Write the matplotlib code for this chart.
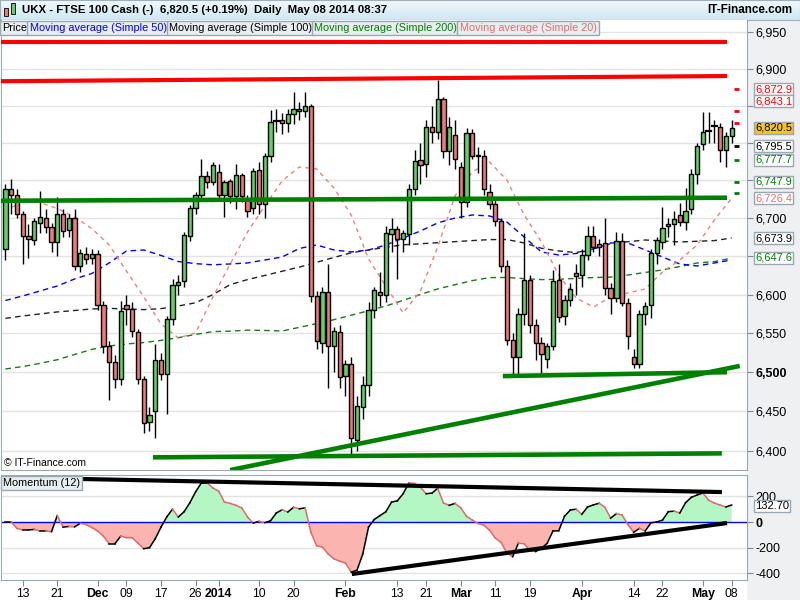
import numpy as np
import matplotlib
matplotlib.use("Agg")
import matplotlib.pyplot as plt
from matplotlib.patches import Rectangle
from matplotlib.colors import LinearSegmentedColormap
from matplotlib.ticker import FixedLocator, NullLocator

plt.rcParams['font.family'] = ['Liberation Sans', 'DejaVu Sans']

# ---------------- data (daily bars, index 0 .. 126) ----------------
opens = [6659, 6739, 6731, 6705, 6676, 6671, 6694, 6700, 6688, 6669,
         6705, 6684, 6700, 6637, 6653, 6648, 6653, 6586, 6533, 6513,
         6491, 6586, 6581, 6551, 6491, 6437, 6451, 6516, 6498, 6568,
         6613, 6618, 6676, 6714, 6730, 6756, 6748, 6761, 6730, 6749,
         6729, 6757, 6725, 6713, 6764, 6719, 6782, 6828, 6830, 6826,
         6839, 6845, 6843, 6849, 6598, 6537, 6603, 6533, 6551, 6495,
         6511, 6414, 6456, 6483, 6580, 6603, 6600, 6679, 6686, 6673,
         6679, 6738, 6777, 6772, 6821, 6815, 6859, 6789, 6811, 6768,
         6721, 6813, 6782, 6783, 6735, 6719, 6696, 6637, 6541, 6520,
         6575, 6619, 6560, 6538, 6517, 6534, 6619, 6572, 6593, 6628,
         6626, 6652, 6676, 6666, 6667, 6609, 6596, 6670, 6589, 6520,
         6511, 6575, 6586, 6654, 6669, 6690, 6692, 6704, 6695, 6712,
         6759, 6798, 6815, 6822, 6821, 6791, 6809]
highs = [6745, 6752, 6738, 6710, 6692, 6700, 6736, 6712, 6694, 6728,
         6712, 6706, 6712, 6660, 6662, 6660, 6658, 6592, 6540, 6522,
         6592, 6600, 6590, 6556, 6495, 6455, 6536, 6525, 6572, 6620,
         6625, 6682, 6718, 6735, 6778, 6762, 6774, 6772, 6750, 6752,
         6772, 6760, 6730, 6766, 6775, 6787, 6844, 6846, 6840, 6845,
         6868, 6855, 6868, 6852, 6605, 6610, 6640, 6558, 6560, 6515,
         6520, 6470, 6495, 6590, 6610, 6630, 6690, 6700, 6690, 6685,
         6745, 6790, 6800, 6830, 6850, 6884, 6862, 6835, 6830, 6775,
         6820, 6818, 6795, 6790, 6745, 6725, 6700, 6645, 6550, 6582,
         6680, 6625, 6568, 6545, 6538, 6632, 6640, 6600, 6615, 6640,
         6660, 6690, 6690, 6672, 6700, 6615, 6682, 6680, 6595, 6530,
         6580, 6590, 6660, 6675, 6715, 6700, 6710, 6720, 6740, 6765,
         6800, 6842, 6842, 6830, 6826, 6815, 6830]
lows = [6645, 6705, 6700, 6640, 6648, 6665, 6680, 6680, 6655, 6650,
        6675, 6675, 6632, 6630, 6640, 6640, 6580, 6525, 6464, 6480,
        6484, 6560, 6545, 6485, 6423, 6425, 6416, 6490, 6447, 6560,
        6600, 6610, 6670, 6705, 6725, 6740, 6744, 6725, 6701, 6720,
        6712, 6722, 6701, 6705, 6705, 6700, 6775, 6815, 6812, 6815,
        6825, 6830, 6835, 6590, 6530, 6525, 6480, 6500, 6480, 6470,
        6395, 6400, 6440, 6470, 6570, 6585, 6590, 6655, 6620, 6655,
        6665, 6730, 6745, 6755, 6800, 6805, 6780, 6770, 6765, 6700,
        6715, 6778, 6760, 6730, 6712, 6690, 6630, 6535, 6496, 6498,
        6560, 6550, 6515, 6495, 6505, 6528, 6565, 6560, 6585, 6600,
        6610, 6645, 6655, 6650, 6600, 6575, 6590, 6585, 6530, 6505,
        6505, 6560, 6570, 6640, 6660, 6675, 6665, 6690, 6685, 6705,
        6745, 6790, 6800, 6800, 6775, 6768, 6800]
closes = [6739, 6731, 6705, 6676, 6672, 6696, 6701, 6688, 6669, 6705,
          6683, 6700, 6637, 6654, 6646, 6653, 6586, 6533, 6513, 6491,
          6579, 6581, 6553, 6491, 6435, 6445, 6516, 6498, 6568, 6613,
          6616, 6678, 6714, 6730, 6756, 6748, 6770, 6730, 6748, 6729,
          6757, 6729, 6710, 6762, 6719, 6783, 6828, 6829, 6826, 6839,
          6845, 6843, 6849, 6598, 6540, 6603, 6533, 6553, 6494, 6511,
          6416, 6457, 6483, 6580, 6606, 6600, 6680, 6686, 6673, 6680,
          6738, 6776, 6770, 6821, 6815, 6859, 6789, 6821, 6778, 6721,
          6813, 6782, 6784, 6739, 6719, 6696, 6637, 6541, 6520, 6575,
          6619, 6560, 6538, 6523, 6534, 6618, 6571, 6593, 6607, 6624,
          6652, 6676, 6662, 6662, 6609, 6596, 6670, 6589, 6546, 6511,
          6575, 6585, 6654, 6671, 6687, 6692, 6699, 6695, 6710, 6759,
          6796, 6815, 6816, 6822, 6791, 6809, 6820.5]

momentum = [0, 0, -50, -62, -62, -58, -70, -70, -75, 50,
            -40, -35, -38, -10, -20, -43, -70, -110, -170, -170,
            -110, -122, -123, -165, -208, -200, -130, -40, 40, 100,
            39, 80, 150, 235, 304, 304, 265, 240, 155, 145,
            130, 110, 39, -8, 5, -5, 10, 70, 95, 78,
            115, 103, 110, -80, -185, -195, -250, -287, -305, -320,
            -390, -375, -250, -40, 20, 50, 80, 155, 165, 220,
            305, 300, 270, 220, 225, 262, 148, 130, 145, 110,
            45, 15, -12, -25, -65, -125, -160, -240, -270, -165,
            -170, -222, -230, -205, -165, -70, -68, 45, 93, 100,
            60, 117, 133, 146, 115, 30, 65, 54, -20, -80,
            -50, -70, -6, 0, 15, 80, 85, 70, 150, 192,
            210, 226, 170, 147, 132, 117, 132.7]

ma_idx = list(range(0, 127, 3))
ma20 = [6708.7, 6723.1, 6720.7, 6712.7, 6701.6, 6686.3, 6664.7, 6630.7, 6596.9, 6562.0,
        6543.9, 6550.3, 6596.9, 6639.9, 6681.8, 6716.1, 6749.2, 6767.8, 6765.2, 6739.9,
        6704.2, 6646.4, 6611.2, 6576.2, 6604.7, 6662.1, 6729.3, 6761.2, 6774.5, 6750.5,
        6704.2, 6668.7, 6625.5, 6595.6, 6583.9, 6596.9, 6602.1, 6607.3, 6629.4, 6645.1,
        6664.7, 6697.6, 6726.4]
ma50 = [6592.4, 6598.2, 6604.7, 6611.2, 6620.3, 6627.5, 6641.2, 6656.9, 6658.2, 6651.0,
        6643.1, 6640.3, 6638.8, 6639.9, 6641.2, 6645.1, 6649.0, 6660.2, 6664.7, 6658.2,
        6655.6, 6658.2, 6664.7, 6673.9, 6683.1, 6693.7, 6700.2, 6704.2, 6702.9, 6695.0,
        6675.2, 6655.6, 6651.6, 6653.6, 6659.5, 6667.4, 6667.4, 6658.2, 6649.0, 6639.9,
        6637.3, 6641.2, 6645.1]
ma100 = [6569.2, 6572.3, 6574.9, 6577.5, 6579.4, 6581.4, 6582.1, 6581.4, 6580.5, 6581.8,
         6585.2, 6589.4, 6600.0, 6613.0, 6619.5, 6624.9, 6630.4, 6635.8, 6642.1, 6648.4,
         6654.5, 6658.2, 6661.7, 6665.0, 6666.3, 6667.8, 6669.1, 6670.5, 6671.8, 6671.9,
         6667.4, 6660.4, 6656.9, 6654.8, 6659.5, 6666.5, 6669.0, 6671.3, 6670.0, 6668.7,
         6669.6, 6670.5, 6673.9]
ma200 = [6504.1, 6507.2, 6511.3, 6515.9, 6522.7, 6529.2, 6533.6, 6536.2, 6538.0, 6540.8,
         6544.3, 6548.5, 6552.1, 6552.7, 6554.0, 6553.6, 6552.9, 6557.6, 6562.5, 6567.5,
         6573.3, 6579.0, 6585.2, 6592.5, 6600.2, 6607.4, 6612.8, 6618.2, 6622.1, 6622.3,
         6620.8, 6619.5, 6619.9, 6621.1, 6622.1, 6622.8, 6625.5, 6628.8, 6632.1, 6636.5,
         6641.2, 6643.0, 6647.6]

tick_idx = [3, 9, 16, 21, 27, 33, 37, 44, 50, 59, 68, 73, 79, 85, 91, 100, 109, 114, 121, 126]
tick_labels = ['13', '21', 'Dec', '09', '17', '26', '2014', '10', '20', 'Feb', '13', '21',
               'Mar', '11', '19', 'Apr', '14', '22', 'May', '08']
bold_labels = ['Dec', '2014', 'Feb', 'Mar', 'Apr', 'May']

# hand-drawn trendlines: (bar index, value) end points
red_lines = [((-0.9, 6936), (125.2, 6936)), ((-0.9, 6883), (125.2, 6890))]
green_lines = [((-0.9, 6723), (125.2, 6727)), ((86.3, 6495), (125.2, 6500)),
               ((39.0, 6376), (127.4, 6508)), ((25.6, 6392), (124.3, 6397))]
mom_lines = [((12.9, 335), (124.3, 233)), ((60.1, -405), (125.2, -8))]

pivots = [6872.9, 6843.1, 6826.0, 6795.5, 6777.7, 6747.9, 6733.0]
pivot_colors = ['#ff0000', '#ff0000', '#ff0000', '#000000', '#008000', '#008000', '#008000']

price_labels = ['6,872.9', '6,843.1', '6,820.5', '6,795.5', '6,777.7', '6,747.9', '6,726.4', '6,673.9', '6,647.6']
price_label_colors = ['#ff0000', '#ff0000', '#000000', '#000000', '#008000', '#008000', '#e07070', '#000000', '#008000']
price_label_y = [89, 101, 128, 146, 160, 182, 198, 238, 258]

# ---------------- figure ----------------
W, H = 800, 600
fig = plt.figure(figsize=(8, 6), dpi=100)
fig.patch.set_facecolor('white')


def fx(px):
    return px / W


def fy(py):
    return 1 - py / H


# right axis panel background
bg = fig.add_axes([fx(747), 0, fx(53), fy(20)])
bg.set_facecolor('#eef0f2')
bg.set_xticks([]); bg.set_yticks([])
for s in bg.spines.values():
    s.set_visible(False)

# header
hdr = fig.add_axes([0, fy(20), 1, 20 / H])
grad = np.linspace(0, 1, 50).reshape(-1, 1)
cmap = LinearSegmentedColormap.from_list('h', ['#f2fafd', '#cfe6f1'])
hdr.imshow(grad, aspect='auto', cmap=cmap, extent=[0, 1, 0, 1], origin='upper')
hdr.set_xlim(0, 1); hdr.set_ylim(0, 1)
hdr.set_xticks([]); hdr.set_yticks([])
for s in hdr.spines.values():
    s.set_color('#9fb0bc')
for t, px in [('UKX - FTSE 100 Cash (-)', 22), ('6,820.5 (+0.19%)', 160), ('Daily  May 08 2014 08:37', 254)]:
    hdr.text(fx(px), 0.5, t, fontsize=8.2, fontweight='bold', va='center', ha='left', transform=hdr.transAxes)
hdr.text(fx(792), 0.5, 'IT-Finance.com', fontsize=8.4, fontweight='bold', va='center', ha='right',
         transform=hdr.transAxes)
hdr.add_patch(Rectangle((fx(4), 0.2), fx(4), 0.4, facecolor='#f07878', edgecolor='black', lw=0.6, transform=hdr.transAxes))
hdr.add_patch(Rectangle((fx(11), 0.3), fx(4), 0.55, facecolor='#5fd35f', edgecolor='black', lw=0.6, transform=hdr.transAxes))

# ---------------- main price panel (log price scale) ----------------
x0, x1 = -0.763, 128.66
ax = fig.add_axes([fx(1), fy(470), fx(746), 450 / H])
ax.set_yscale('log')
ax.set_xlim(x0, x1)
ax.set_ylim(6376.1, 6966.4)
ax.set_facecolor('white')
for v in range(6400, 6951, 50):
    ax.axhline(v, color='#e3e3e3', lw=1, zorder=0)

n = len(closes)
xs = np.arange(n)
ax.plot(ma_idx, ma200, color='#1a7a1a', lw=1, ls=(0, (4, 3)), zorder=1)
ax.plot(ma_idx, ma100, color='#222222', lw=1, ls=(0, (4, 3)), zorder=1)
ax.plot(ma_idx, ma50, color='#0000ff', lw=1, ls=(0, (4, 3)), zorder=1)
ax.plot(ma_idx, ma20, color='#ee8080', lw=1, ls=(0, (3, 3)), zorder=1)

ax.vlines(xs, lows, highs, color='black', lw=1, zorder=2)
for i in range(n):
    o, c = opens[i], closes[i]
    bottom = min(o, c)
    h = abs(c - o)
    col = '#5fd35f' if c > o else '#f07878'
    if h < 1.5:
        ax.plot([i - 0.4, i + 0.4], [c, c], color='black', lw=1.6, zorder=3)
    else:
        ax.add_patch(Rectangle((i - 0.37, bottom), 0.74, h, facecolor=col, edgecolor='black', lw=1, zorder=3))

for (a, b) in red_lines:
    ax.plot([a[0], b[0]], [a[1], b[1]], color='#ff0000', lw=3, solid_capstyle='butt', zorder=4)
for (a, b) in green_lines:
    ax.plot([a[0], b[0]], [a[1], b[1]], color='#008000', lw=3.3, solid_capstyle='butt', zorder=4)

for v, c in zip(pivots, pivot_colors):
    ax.plot([126.4, 127.3], [v, v], color=c, lw=2, solid_capstyle='butt', zorder=4)

ax.text(0.004, 0.004, '© IT-Finance.com', transform=ax.transAxes, fontsize=7.5, va='bottom', ha='left')

ax.set_xticks([])
ax.yaxis.tick_right()
yt = list(range(6400, 6951, 50))
ax.yaxis.set_major_locator(FixedLocator(yt))
ax.yaxis.set_minor_locator(NullLocator())
shown = {6400, 6450, 6500, 6550, 6600, 6700, 6900, 6950}
ax.set_yticklabels([f'{v:,}' if v in shown else '' for v in yt], fontsize=9)
for lab, v in zip(ax.get_yticklabels(), yt):
    if v == 6500:
        lab.set_fontweight('bold')
ax.tick_params(axis='y', which='both', length=4, color='#7a8a96', pad=2)
for s in ax.spines.values():
    s.set_color('#9aa8b2')
ax.spines['top'].set_visible(False)

for t, c, py in zip(price_labels, price_label_colors, price_label_y):
    face = '#f5c518' if t == '6,820.5' else 'white'
    fig.text(fx(755), fy(py), t, fontsize=8, color=c, va='center', ha='left',
             bbox=dict(boxstyle='square,pad=0.12', facecolor=face, edgecolor='#9aa8b2', lw=1))

# legend row (drawn over the top of the price panel)
leg_items = [('Price', '#000000'), ('Moving average (Simple 50)', '#0000ff'),
             ('Moving average (Simple 100)', '#000000'), ('Moving average (Simple 200)', '#008000'),
             ('Moving average (Simple 20)', '#e07070')]
lx = 2
renderer = fig.canvas.get_renderer()
for t, c in leg_items:
    tx = fig.text(fx(lx), fy(28), t, fontsize=7.8, color=c, va='center', ha='left', zorder=10,
                  bbox=dict(boxstyle='square,pad=0.22', facecolor='#e8edf0', edgecolor='#9aa8b2', lw=1))
    bb = tx.get_window_extent(renderer=renderer)
    lx += bb.width + 2.5

# ---------------- momentum panel ----------------
am = fig.add_axes([fx(1), fy(580), fx(746), 105 / H])
am.set_xlim(x0, x1)
am.set_ylim(-451.4, 365.8)
for v in [200, -200, -400]:
    am.axhline(v, color='#e3e3e3', lw=1, zorder=0)
mom = np.array(momentum, dtype=float)
am.fill_between(xs, mom, 0, where=mom >= 0, interpolate=True, color='#b4f7c4', lw=0, zorder=1)
am.fill_between(xs, mom, 0, where=mom <= 0, interpolate=True, color='#fbb4b0', lw=0, zorder=1)
for i in range(n - 1):
    col = 'black' if mom[i + 1] >= mom[i] else '#e06a6a'
    am.plot([i, i + 1], [mom[i], mom[i + 1]], color=col, lw=1.1, zorder=3)
am.axhline(0, color='#0000ff', lw=1, zorder=2)
for (a, b) in mom_lines:
    am.plot([a[0], b[0]], [a[1], b[1]], color='black', lw=3, solid_capstyle='butt', zorder=4)
am.yaxis.tick_right()
am.set_yticks([200, 0, -200, -400])
am.set_yticklabels(['200', '0', '-200', '-400'], fontsize=9)
am.get_yticklabels()[1].set_fontweight('bold')
am.tick_params(axis='y', length=4, color='#7a8a96', pad=2)
for s in am.spines.values():
    s.set_color('#9aa8b2')
am.set_xticks(tick_idx)
am.set_xticklabels(tick_labels, fontsize=8.8)
for lab in am.get_xticklabels():
    if lab.get_text() in bold_labels:
        lab.set_fontweight('bold')
am.tick_params(axis='x', length=4, color='#7a8a96', pad=2)
am.text(0.003, 0.97, 'Momentum (12)', transform=am.transAxes, fontsize=7.8, va='top', ha='left',
        bbox=dict(boxstyle='square,pad=0.2', facecolor='#e8edf0', edgecolor='#9aa8b2', lw=1), zorder=5)
fig.text(fx(755), fy(506), '132.70', fontsize=8, color='black', va='center', ha='left',
         bbox=dict(boxstyle='square,pad=0.12', facecolor='white', edgecolor='#9aa8b2', lw=1))

fig.savefig('out.png', dpi=100)
